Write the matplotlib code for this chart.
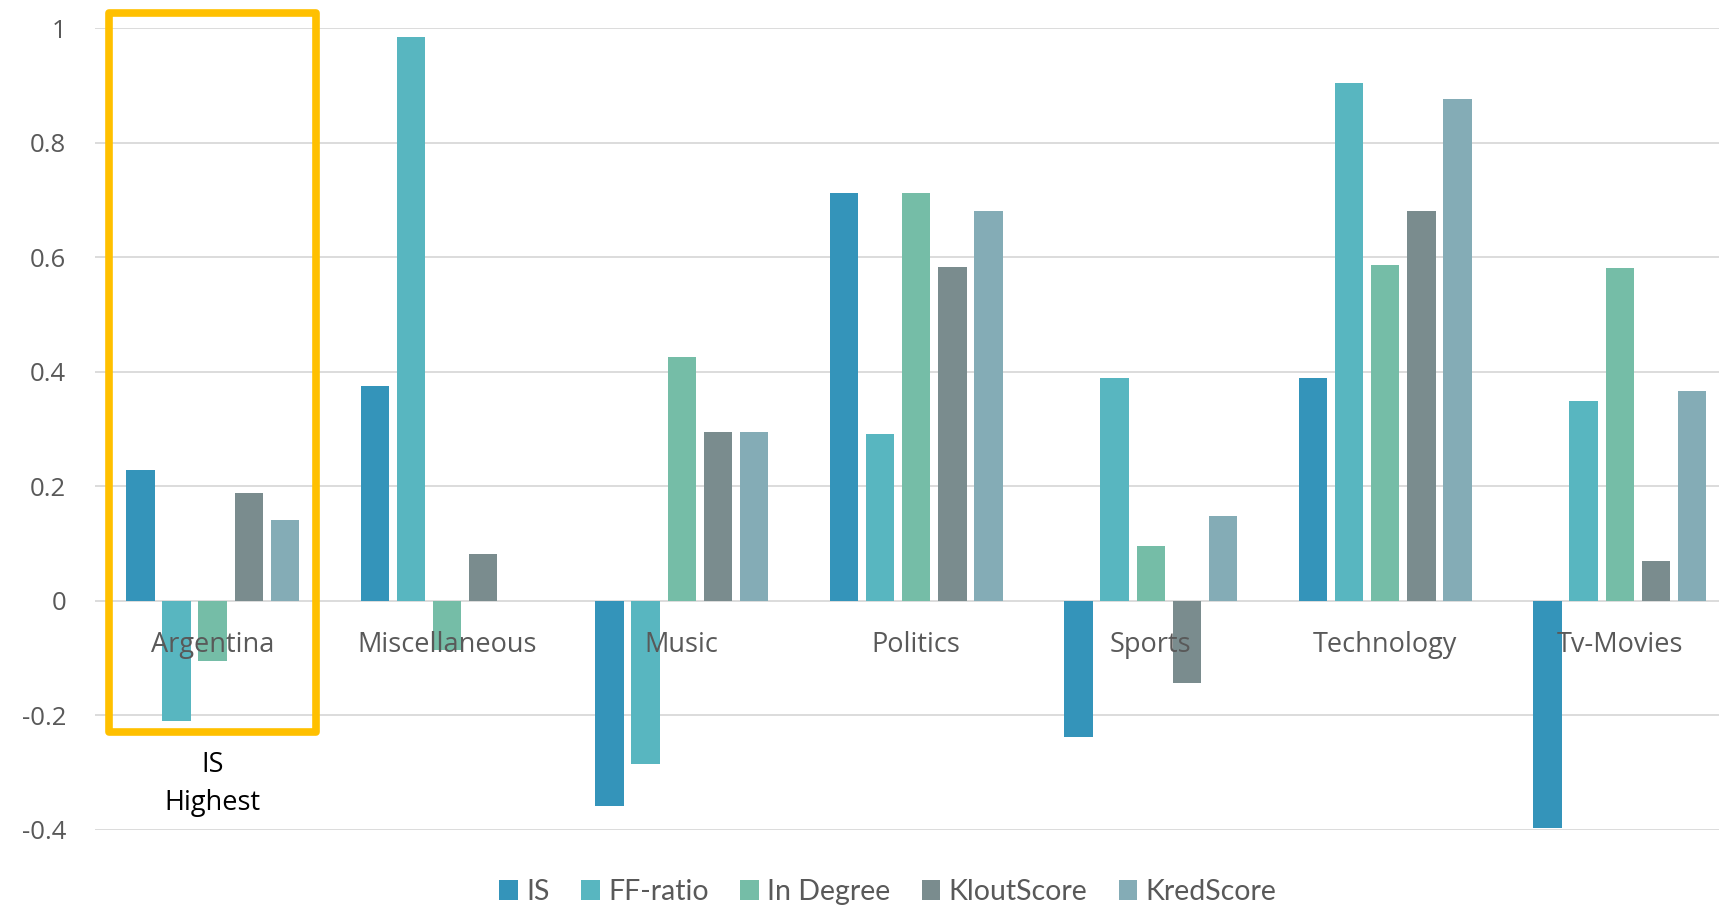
import numpy as np
import matplotlib
matplotlib.use('Agg')
import matplotlib.pyplot as plt
from matplotlib.patches import Rectangle

categories = ['Argentina', 'Miscellaneous', 'Music', 'Politics', 'Sports', 'Technology', 'Tv-Movies']
series = ['IS', 'FF-ratio', 'In Degree', 'KloutScore', 'KredScore']
is_vals = [0.228, 0.375, -0.358, 0.713, -0.238, 0.389, -0.397]
ff_vals = [-0.210, 0.985, -0.285, 0.291, 0.389, 0.904, 0.349]
indeg_vals = [-0.105, -0.086, 0.427, 0.713, 0.096, 0.586, 0.582]
klout_vals = [0.188, 0.082, 0.295, 0.584, -0.144, 0.682, 0.069]
kred_vals = [0.142, 0.0, 0.295, 0.682, 0.149, 0.877, 0.366]
colors = ['#3494BA', '#58B6C0', '#75BDA7', '#7A8C8E', '#84ACB6']
yticks = [-0.4, -0.2, 0, 0.2, 0.4, 0.6, 0.8, 1]
ytick_labels = ['-0.4', '-0.2', '0', '0.2', '0.4', '0.6', '0.8', '1']

plt.rcParams['font.family'] = ['Open Sans', 'DejaVu Sans']

fig = plt.figure(figsize=(17.19, 9.07), dpi=100)
ax = fig.add_axes([0.0555, 0.0849, 0.955, 0.8837])

x = np.arange(len(categories))
pitch = 0.154
width = 0.121
data = [is_vals, ff_vals, indeg_vals, klout_vals, kred_vals]
for i, vals in enumerate(data):
    ax.bar(x + (i - 2) * pitch, vals, width, color=colors[i], label=series[i], zorder=2)

ax.set_xlim(-0.5, len(categories) - 0.5)
ax.set_ylim(-0.4, 1)
ax.set_yticks(yticks)
ax.set_yticklabels(ytick_labels, fontsize=18.5, color='#595959')
ax.set_xticks([])
ax.tick_params(axis='y', length=0, pad=21)
ax.grid(axis='y', color='#D9D9D9', linewidth=1.3, zorder=0)
for s in ax.spines.values():
    s.set_visible(False)

# category names sit just under the zero line, over the bars
for xi, name in zip(x, categories):
    ax.text(xi, -0.077, name, ha='center', va='center', fontsize=19.5, color='#595959', zorder=5)

# highlight box around the first group
box = Rectangle((-0.44, -0.228), 0.88, 1.255, fill=False, edgecolor='#FFC000',
                linewidth=5.5, clip_on=False, zorder=6, joinstyle='round')
ax.add_patch(box)
ax.text(0, -0.287, 'IS', ha='center', va='center', fontsize=19.5, color='black')
ax.text(0, -0.353, 'Highest', ha='center', va='center', fontsize=19.5, color='black')

leg = fig.legend(loc='center', bbox_to_anchor=(888 / 1719, 1 - 892 / 907), ncol=5, frameon=False,
                 handlelength=0.65, handleheight=0.65, handletextpad=0.3,
                 columnspacing=1.1, prop={'family': ['Lato', 'DejaVu Sans'], 'size': 20.5})
for t in leg.get_texts():
    t.set_color('#595959')

fig.savefig('out.png', dpi=100)
